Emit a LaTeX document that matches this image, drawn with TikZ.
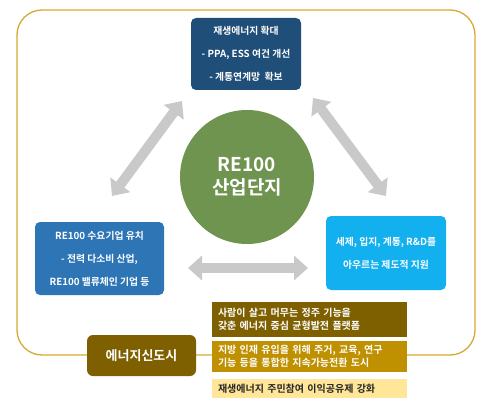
\documentclass[tikz,border=0pt]{standalone}
\usepackage{fontspec}
\setmainfont{Noto Sans CJK KR}[BoldFont={Noto Sans CJK KR Bold}]
\usetikzlibrary{arrows.meta}
\definecolor{topblue}{HTML}{1F4E79}
\definecolor{midblue}{HTML}{2E75B6}
\definecolor{skyblue}{HTML}{12B0EE}
\definecolor{circgreen}{HTML}{6F9450}
\definecolor{brownA}{HTML}{7F6000}
\definecolor{goldB}{HTML}{BF9000}
\definecolor{lightC}{HTML}{FFE699}
\definecolor{frame}{HTML}{D6A932}
\definecolor{arrowgray}{HTML}{C9C9C9}
\tikzset{
  bluebox/.style={rounded corners=5pt, text=white, font=\bfseries\fontsize{9.8}{23}\selectfont, align=center, inner sep=0pt},
  infobox/.style={minimum width=195pt, inner sep=0pt, text width=183pt, align=left, font=\bfseries\fontsize{10}{12.5}\selectfont},
  bigarrow/.style={draw=arrowgray, line width=10pt, {Triangle[length=14pt,width=24pt]}-{Triangle[length=14pt,width=24pt]}}
}
\begin{document}
\begin{tikzpicture}[x=1pt,y=-1pt]
\useasboundingbox[fill=white] (0,0) rectangle (500,414);
% outer frame
\draw[frame, line width=1.3pt, rounded corners=25pt] (17,10) rectangle (475,355);
% arrows
\coordinate (l1) at (182,101);
\coordinate (l2) at (112,196);
\coordinate (r1) at (313,98);
\coordinate (r2) at (386,196);
\coordinate (b1) at (188,268);
\coordinate (b2) at (308,268);
\draw[bigarrow] (l1) -- (l2);
\draw[bigarrow] (r1) -- (r2);
\draw[bigarrow] (b1) -- (b2);
% boxes
\node[bluebox, fill=topblue, minimum width=110pt, minimum height=72pt] (top) at (246,54)
  {재생에너지 확대\\- PPA, ESS 여건 개선\\- 계통연계망\ \ 확보};
\node[bluebox, fill=midblue, minimum width=129pt, minimum height=73pt] (left) at (99.5,258.5)
  {RE100 수요기업 유치\\- 전력 다소비 산업,\\RE100 밸류체인 기업 등};
\node[bluebox, fill=skyblue, minimum width=120pt, minimum height=74pt] (right) at (386,253)
  {세제, 입지, 계통, R\&D를\\아우르는 제도적 지원};
\node[circle, fill=circgreen, minimum size=134pt, inner sep=0pt, text=white, align=center,
  font=\bfseries\fontsize{19}{23}\selectfont] (core) at (247,177) {RE100\\산업단지};
% bottom section
\node[rounded corners=6pt, fill=brownA, text=white, minimum width=109pt, minimum height=41pt,
  font=\bfseries\fontsize{13}{15}\selectfont] (city) at (141.5,355.5) {에너지신도시};
\node[infobox, fill=brownA, text=white, minimum height=35pt] (i1) at (309.5,319.5)
  {사람이 살고 머무는 정주 기능을\\갖춘 에너지 중심 균형발전 플랫폼};
\node[infobox, fill=goldB, text=white, minimum height=31pt] (i2) at (309.5,356.5)
  {지방 인재 유입을 위해 주거, 교육, 연구\\기능 등을 통합한 지속가능전환 도시};
\node[infobox, fill=lightC, text=black!85, minimum height=19pt] (i3) at (309.5,388.5)
  {재생에너지 주민참여 이익공유제 강화};
\end{tikzpicture}
\end{document}
